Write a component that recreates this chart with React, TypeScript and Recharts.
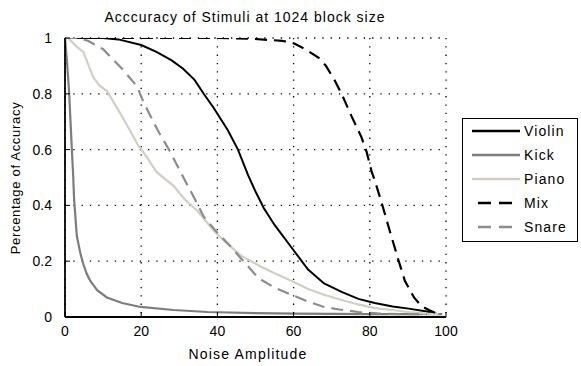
import React from 'react';
import { LineChart, Line, XAxis, YAxis, CartesianGrid, Legend } from 'recharts';

const title = 'Acccuracy of Stimuli at 1024 block size';
const xLabel = 'Noise Amplitude';
const yLabel = 'Percentage of Accuracy';
const xTicks = [0, 20, 40, 60, 80, 100];
const yTicks = [0, 0.2, 0.4, 0.6, 0.8, 1];

const violinX = [0, 10, 14, 20, 24, 28, 31, 34, 36.4, 39, 42.7, 45.4, 48, 50, 52.2, 55, 59.4, 63.8, 68, 72.6, 77, 81.3, 86, 90.2, 95, 98];
const violinY = [1, 1, 0.995, 0.975, 0.95, 0.92, 0.89, 0.85, 0.8, 0.75, 0.67, 0.6, 0.51, 0.45, 0.39, 0.33, 0.25, 0.17, 0.12, 0.09, 0.065, 0.05, 0.038, 0.03, 0.02, 0.01];

const kickX = [0, 0.5, 1.1, 1.8, 2.1, 2.4, 3.1, 4, 4.8, 5.7, 6.6, 8.5, 11, 15, 19.8, 28.5, 37.4, 50, 60, 80, 99];
const kickY = [1, 0.92, 0.8, 0.6, 0.52, 0.42, 0.29, 0.23, 0.19, 0.155, 0.13, 0.095, 0.07, 0.05, 0.036, 0.025, 0.018, 0.014, 0.012, 0.01, 0.01];

const pianoX = [0, 0.8, 3, 4.8, 7.4, 9, 11, 14.5, 17, 19, 21.6, 24, 28.5, 31.5, 34.8, 39, 42, 46.2, 51.5, 55, 59.4, 63.8, 68, 72.6, 77, 81.3, 86, 90, 95, 98];
const pianoY = [1, 1, 0.97, 0.95, 0.86, 0.83, 0.81, 0.73, 0.67, 0.62, 0.57, 0.52, 0.47, 0.42, 0.38, 0.31, 0.27, 0.22, 0.18, 0.157, 0.13, 0.1, 0.08, 0.061, 0.045, 0.032, 0.025, 0.018, 0.012, 0.01];

const mixX = [0, 40, 48, 57, 60.2, 63, 66.5, 68.5, 70.7, 72.6, 75.2, 77.8, 79.2, 80.5, 81.3, 83.1, 85, 86.3, 87.6, 89.2, 91.6, 93.5, 95.5, 98];
const mixY = [1, 1, 0.998, 0.99, 0.98, 0.96, 0.93, 0.9, 0.85, 0.8, 0.72, 0.645, 0.59, 0.52, 0.49, 0.41, 0.32, 0.26, 0.2, 0.13, 0.07, 0.04, 0.025, 0.01];

const snareX = [0, 3, 6, 10, 15.3, 19, 20.6, 24.3, 27.7, 30.3, 33.8, 36.4, 40.1, 43, 46.2, 50.7, 55, 59.4, 63.8, 68, 72, 77, 82, 88, 95];
const snareY = [1, 1, 0.99, 0.96, 0.885, 0.825, 0.77, 0.67, 0.59, 0.52, 0.43, 0.36, 0.3, 0.26, 0.21, 0.14, 0.105, 0.08, 0.055, 0.036, 0.027, 0.018, 0.013, 0.01, 0.01];

const toPoints = (xs: number[], ys: number[]) => xs.map((x, i) => ({ x, y: ys[i] }));

const series = [
  { name: 'Violin', data: toPoints(violinX, violinY), color: '#000000', dash: undefined as string | undefined, width: 2 },
  { name: 'Kick', data: toPoints(kickX, kickY), color: '#7d7d7d', dash: undefined, width: 2.2 },
  { name: 'Piano', data: toPoints(pianoX, pianoY), color: '#d2cec4', dash: undefined, width: 2.2 },
  { name: 'Mix', data: toPoints(mixX, mixY), color: '#000000', dash: '12 7', width: 2.2 },
  { name: 'Snare', data: toPoints(snareX, snareY), color: '#8c8c8c', dash: '12 7', width: 2.2 },
];

const FONT = '"Liberation Sans", Arial, Helvetica, sans-serif';
const FS = 14;
const AXW = 1.8;

const LegendBox = () => (
  <div style={{ position: 'relative', width: 114, height: 122, border: '1px solid #000', background: '#fff', boxSizing: 'content-box', fontFamily: FONT, fontSize: FS, letterSpacing: 1.1 }}>
    {series.map((s, i) => (
      <div key={s.name} style={{ position: 'absolute', left: 0, top: i * 24, height: 24, width: 114, display: 'flex', alignItems: 'center' }}>
        <svg width={61} height={24} style={{ display: 'block' }}>
          {s.dash ? (
            <line x1={15} x2={54} y1={12} y2={12} stroke={s.color} strokeWidth={2.5} strokeDasharray="13 8" />
          ) : (
            <line x1={9} x2={57} y1={12} y2={12} stroke={s.color} strokeWidth={2.5} />
          )}
        </svg>
        <span style={{ color: '#000' }}>{s.name}</span>
      </div>
    ))}
  </div>
);

const tickStyle = { fill: '#000', fontSize: FS, fontFamily: FONT };

export default function App() {
  return (
    <div style={{ position: 'absolute', left: 0, top: 0, width: 581, height: 366, background: '#fff', fontFamily: FONT }}>
      <div style={{ position: 'absolute', left: 45, width: 400, top: 9, textAlign: 'center', fontSize: FS, letterSpacing: 1, color: '#000', whiteSpace: 'nowrap' }}>{title}</div>
      <div style={{ position: 'absolute', left: 48, width: 400, top: 346, textAlign: 'center', fontSize: FS, letterSpacing: 1.2, color: '#000' }}>{xLabel}</div>
      <div style={{ position: 'absolute', left: 15, top: 178, width: 0, height: 0 }}>
        <div style={{ position: 'absolute', transform: 'translate(-50%, -50%) rotate(-90deg)', whiteSpace: 'nowrap', fontSize: 13, letterSpacing: 0.7, color: '#000' }}>{yLabel}</div>
      </div>
      <LineChart width={581} height={366} margin={{ top: 38, right: 19, bottom: 0, left: 0 }}>
        <CartesianGrid stroke="#000" strokeWidth={1.3} strokeDasharray="1.3 7" />
        <XAxis
          type="number"
          dataKey="x"
          domain={[0, 100]}
          ticks={xTicks}
          height={49}
          axisLine={{ stroke: '#000', strokeWidth: AXW }}
          tickLine={{ stroke: '#000' }}
          tickSize={-5}
          tickMargin={14}
          tick={tickStyle}
          allowDataOverflow
        />
        <XAxis
          xAxisId="top"
          orientation="top"
          type="number"
          domain={[0, 100]}
          ticks={xTicks}
          height={0}
          mirror
          axisLine={{ stroke: '#000', strokeWidth: AXW }}
          tickLine={{ stroke: '#000' }}
          tickSize={5}
          tickFormatter={() => ''}
          allowDataOverflow
        />
        <YAxis
          type="number"
          domain={[0, 1]}
          ticks={yTicks}
          width={65}
          axisLine={{ stroke: '#000', strokeWidth: AXW }}
          tickLine={{ stroke: '#000' }}
          tickSize={-5}
          tickMargin={18}
          tick={tickStyle}
          tickFormatter={(v: number) => String(v)}
          allowDataOverflow
        />
        <YAxis
          yAxisId="right"
          orientation="right"
          type="number"
          domain={[0, 1]}
          ticks={yTicks}
          width={0}
          mirror
          axisLine={{ stroke: '#000', strokeWidth: AXW }}
          tickLine={{ stroke: '#000' }}
          tickSize={5}
          tickFormatter={() => ''}
          allowDataOverflow
        />
        <Legend
          layout="vertical"
          align="right"
          verticalAlign="top"
          content={() => <LegendBox />}
          wrapperStyle={{ left: 462, right: 'auto', top: 118, bottom: 'auto', width: 116 }}
        />
        {series.map((s) => (
          <Line
            key={s.name}
            data={s.data}
            dataKey="y"
            name={s.name}
            type="linear"
            stroke={s.color}
            strokeWidth={s.width}
            strokeDasharray={s.dash}
            dot={false}
            activeDot={false}
            isAnimationActive={false}
          />
        ))}
      </LineChart>
    </div>
  );
}
